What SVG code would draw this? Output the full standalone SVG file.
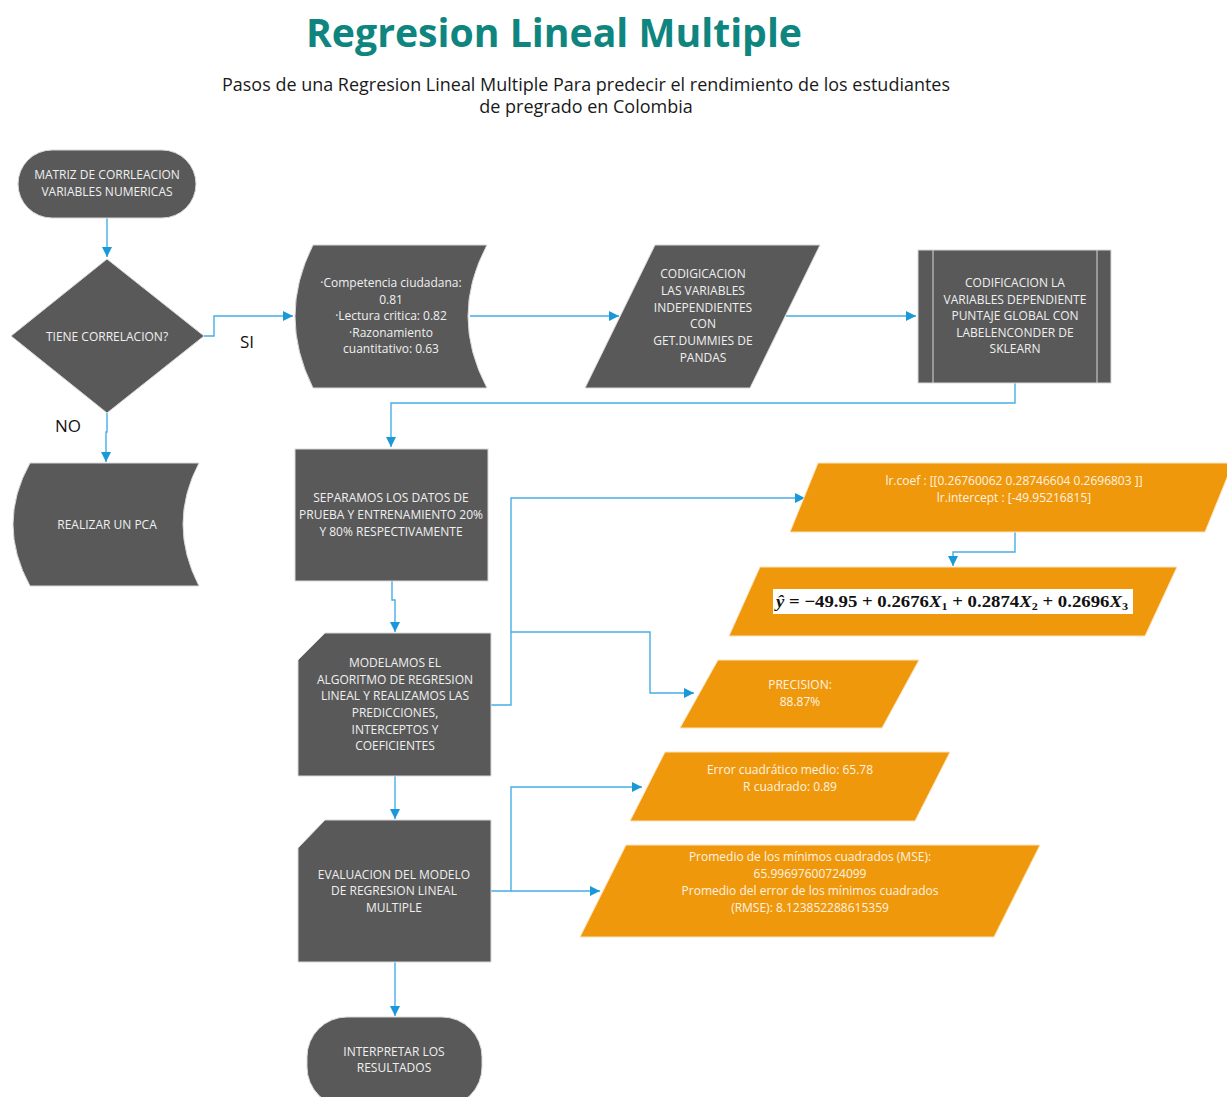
<svg xmlns="http://www.w3.org/2000/svg" width="1227" height="1097" viewBox="0 0 1227 1097">
  <style>
    .dark { fill: #595959; stroke: #d9d9d9; stroke-width: 1; }
    .orange { fill: #F0980C; stroke: #fbe3bd; stroke-width: 1; }
    .lbl { font-family: "Open Sans", "Noto Sans", sans-serif; font-size: 12px; fill: #f0f0f0; text-anchor: middle; }
    .olbl { font-family: "Open Sans", "Noto Sans", sans-serif; font-size: 12px; fill: #fdf3e3; text-anchor: middle; }
    .edge { fill: none; stroke: #46AEE6; stroke-width: 1.4; }
    .tag { font-family: "Open Sans", "Noto Sans", sans-serif; font-size: 17px; fill: #111; }
  </style>
  <defs>
    <marker id="arrow" markerWidth="12" markerHeight="12" refX="10" refY="5" orient="auto" markerUnits="userSpaceOnUse">
      <path d="M0,0 L10,5 L0,10 Z" fill="#1B98D8"/>
    </marker>
  </defs>

  <rect width="1227" height="1097" fill="#ffffff"/>

  <!-- heading -->
  <text x="554" y="47" text-anchor="middle" font-family="Open Sans, Noto Sans, sans-serif" font-weight="700" font-size="39" fill="#0E857E" textLength="496" lengthAdjust="spacingAndGlyphs">Regresion Lineal Multiple</text>
  <text x="586" y="91" text-anchor="middle" font-family="Open Sans, Noto Sans, sans-serif" font-size="18" fill="#1a1a1a" textLength="728" lengthAdjust="spacingAndGlyphs">Pasos de una Regresion Lineal Multiple Para predecir el rendimiento de los estudiantes</text>
  <text x="586" y="113" text-anchor="middle" font-family="Open Sans, Noto Sans, sans-serif" font-size="18" fill="#1a1a1a">de pregrado en Colombia</text>

  <!-- connectors -->
  <g id="connectors">
    <path class="edge" d="M107,218 V257" marker-end="url(#arrow)"/>
    <path class="edge" d="M204,336 H214 V316 H293" marker-end="url(#arrow)"/>
    <path class="edge" d="M107,413 V432 H106 V462" marker-end="url(#arrow)"/>
    <path class="edge" d="M470,316 H619" marker-end="url(#arrow)"/>
    <path class="edge" d="M786,316 H916" marker-end="url(#arrow)"/>
    <path class="edge" d="M1015,383 V403 H391 V447" marker-end="url(#arrow)"/>
    <path class="edge" d="M392,581 V600 H395 V632" marker-end="url(#arrow)"/>
    <path class="edge" d="M491,705 H511 V498 H805" marker-end="url(#arrow)"/>
    <path class="edge" d="M511,632 H650 V693 H694" marker-end="url(#arrow)"/>
    <path class="edge" d="M1015,532 V552 H953 V566" marker-end="url(#arrow)"/>
    <path class="edge" d="M395,776 V819" marker-end="url(#arrow)"/>
    <path class="edge" d="M491,891 H511 V787 H642" marker-end="url(#arrow)"/>
    <path class="edge" d="M511,891 H600" marker-end="url(#arrow)"/>
    <path class="edge" d="M395,962 V1016" marker-end="url(#arrow)"/>
    <text class="tag" x="240" y="348">SI</text>
    <text class="tag" x="55" y="432">NO</text>
  </g>

  <!-- start -->
  <g id="matriz">
    <rect class="dark" x="18" y="150" width="178" height="68" rx="34" ry="34"/>
    <text class="lbl" x="107" y="179">MATRIZ DE CORRLEACION</text>
    <text class="lbl" x="107" y="196">VARIABLES NUMERICAS</text>
  </g>

  <!-- decision -->
  <g id="decision">
    <path class="dark" d="M107,259 L204,336 L107,413 L11,336 Z"/>
    <text class="lbl" x="107" y="341">TIENE CORRELACION?</text>
  </g>

  <!-- PCA branch -->
  <g id="pca">
    <path class="dark" d="M30,463 L199,463 Q167,524 199,586 L30,586 Q-4,524 30,463 Z"/>
    <text class="lbl" x="107" y="529">REALIZAR UN PCA</text>
  </g>

  <!-- correlated variables -->
  <g id="correlaciones">
    <path class="dark" d="M313,245 L487,245 Q449,316 487,388 L313,388 Q277,316 313,245 Z"/>
    <text class="lbl" x="391" y="287">·Competencia ciudadana:</text>
    <text class="lbl" x="391" y="304">0.81</text>
    <text class="lbl" x="391" y="320">·Lectura critica: 0.82</text>
    <text class="lbl" x="391" y="337">·Razonamiento</text>
    <text class="lbl" x="391" y="353">cuantitativo: 0.63</text>
  </g>

  <!-- dummies -->
  <g id="dummies">
    <path class="dark" d="M655,245 L820,245 L750,388 L585,388 Z"/>
    <text class="lbl" x="703" y="278">CODIGICACION</text>
    <text class="lbl" x="703" y="295">LAS VARIABLES</text>
    <text class="lbl" x="703" y="312">INDEPENDIENTES</text>
    <text class="lbl" x="703" y="328">CON</text>
    <text class="lbl" x="703" y="345">GET.DUMMIES DE</text>
    <text class="lbl" x="703" y="362">PANDAS</text>
  </g>

  <!-- label encoder -->
  <g id="labelencoder">
    <rect class="dark" x="918" y="250" width="193" height="133"/>
    <line x1="933" y1="250" x2="933" y2="383" stroke="#d9d9d9" stroke-width="1"/>
    <line x1="1097" y1="250" x2="1097" y2="383" stroke="#d9d9d9" stroke-width="1"/>
    <text class="lbl" x="1015" y="287">CODIFICACION LA</text>
    <text class="lbl" x="1015" y="304">VARIABLES DEPENDIENTE</text>
    <text class="lbl" x="1015" y="320">PUNTAJE GLOBAL CON</text>
    <text class="lbl" x="1015" y="337">LABELENCONDER DE</text>
    <text class="lbl" x="1015" y="353">SKLEARN</text>
  </g>

  <!-- split -->
  <g id="separacion">
    <rect class="dark" x="295" y="449" width="193" height="132"/>
    <text class="lbl" x="391" y="502">SEPARAMOS LOS DATOS DE</text>
    <text class="lbl" x="391" y="519">PRUEBA Y ENTRENAMIENTO 20%</text>
    <text class="lbl" x="391" y="536">Y 80% RESPECTIVAMENTE</text>
  </g>

  <!-- model -->
  <g id="modelo">
    <path class="dark" d="M325,633 L491,633 L491,776 L298,776 L298,660 Z"/>
    <text class="lbl" x="395" y="667">MODELAMOS EL</text>
    <text class="lbl" x="395" y="684">ALGORITMO DE REGRESION</text>
    <text class="lbl" x="395" y="700">LINEAL Y REALIZAMOS LAS</text>
    <text class="lbl" x="395" y="717">PREDICCIONES,</text>
    <text class="lbl" x="395" y="734">INTERCEPTOS Y</text>
    <text class="lbl" x="395" y="750">COEFICIENTES</text>
  </g>

  <!-- coefficients -->
  <g id="coeficientes">
    <path class="orange" d="M818,463 L1233,463 L1205,532 L790,532 Z"/>
    <text class="olbl" x="1014" y="485">lr.coef : [[0.26760062 0.28746604 0.2696803 ]]</text>
    <text class="olbl" x="1014" y="502">lr.intercept : [-49.95216815]</text>
  </g>

  <!-- equation -->
  <g id="ecuacion">
    <path class="orange" d="M760,567 L1177,567 L1145,636 L729,636 Z"/>
    <rect x="773" y="589" width="360" height="25" fill="#ffffff"/>
    <text x="776" y="607" font-family="Liberation Serif, DejaVu Serif, serif" font-size="17" font-weight="bold" fill="#111" textLength="352" lengthAdjust="spacingAndGlyphs"><tspan font-style="italic">ŷ</tspan> = −49.95 + 0.2676<tspan font-style="italic">X</tspan><tspan font-size="11" dy="3">1</tspan><tspan dy="-3"> + 0.2874</tspan><tspan font-style="italic">X</tspan><tspan font-size="11" dy="3">2</tspan><tspan dy="-3"> +  0.2696</tspan><tspan font-style="italic">X</tspan><tspan font-size="11" dy="3">3</tspan></text>
  </g>

  <!-- precision -->
  <g id="precision">
    <path class="orange" d="M718,660 L919,660 L882,728 L680,728 Z"/>
    <text class="olbl" x="800" y="689">PRECISION:</text>
    <text class="olbl" x="800" y="706">88.87%</text>
  </g>

  <!-- evaluation -->
  <g id="evaluacion">
    <path class="dark" d="M325,820 L491,820 L491,962 L298,962 L298,848 Z"/>
    <text class="lbl" x="394" y="879">EVALUACION DEL MODELO</text>
    <text class="lbl" x="394" y="895">DE REGRESION LINEAL</text>
    <text class="lbl" x="394" y="912">MULTIPLE</text>
  </g>

  <!-- error metrics -->
  <g id="error">
    <path class="orange" d="M665,752 L950,752 L915,821 L630,821 Z"/>
    <text class="olbl" x="790" y="774">Error cuadrático medio: 65.78</text>
    <text class="olbl" x="790" y="791">R cuadrado: 0.89</text>
  </g>

  <g id="mse">
    <path class="orange" d="M626,845 L1040,845 L994,937 L580,937 Z"/>
    <text class="olbl" x="810" y="861">Promedio de los mínimos cuadrados (MSE):</text>
    <text class="olbl" x="810" y="878">65.99697600724099</text>
    <text class="olbl" x="810" y="895">Promedio del error de los mínimos cuadrados</text>
    <text class="olbl" x="810" y="912">(RMSE): 8.123852288615359</text>
  </g>

  <!-- end -->
  <g id="interpretar">
    <rect class="dark" x="307" y="1017" width="175" height="90" rx="40" ry="40"/>
    <text class="lbl" x="394" y="1056">INTERPRETAR LOS</text>
    <text class="lbl" x="394" y="1072">RESULTADOS</text>
  </g>
</svg>
